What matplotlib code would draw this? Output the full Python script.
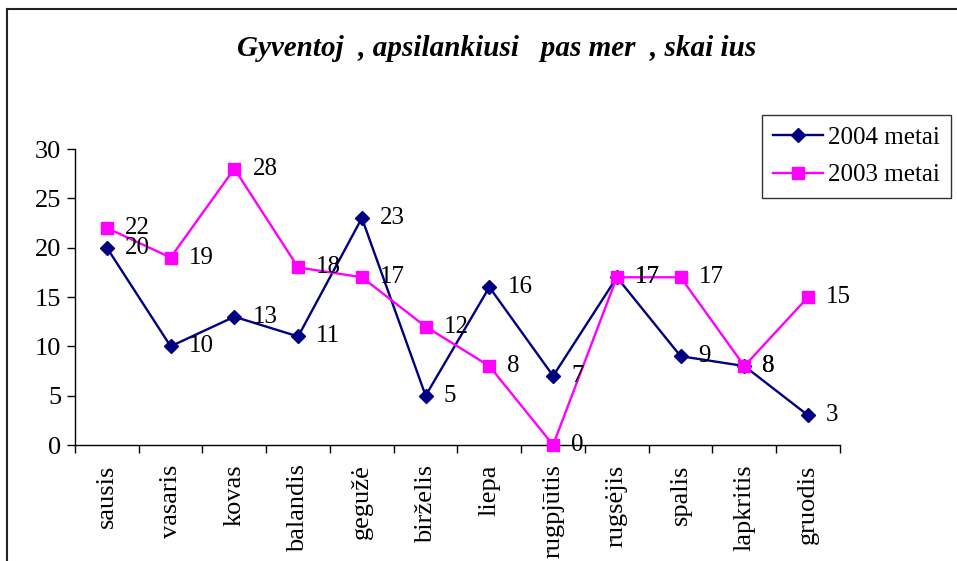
import numpy as np
import matplotlib
matplotlib.use("Agg")
import matplotlib.pyplot as plt
from matplotlib.lines import Line2D

months = ["sausis", "vasaris", "kovas", "balandis", "gegužė", "birželis",
          "liepa", "rugpjūtis", "rugsėjis", "spalis", "lapkritis", "gruodis"]
visits_2004 = [20, 10, 13, 11, 23, 5, 16, 7, 17, 9, 8, 3]
visits_2003 = [22, 19, 28, 18, 17, 12, 8, 0, 17, 17, 8, 15]

title = "Gyventoj  , apsilankiusi   pas mer  , skai ius"

plt.rcParams["font.family"] = ["Liberation Serif", "DejaVu Serif"]

W, H = 957, 561
fig = plt.figure(figsize=(W / 100, H / 100), dpi=100)

# frame around the chart area (only top and left visible in the crop)
fig.add_artist(Line2D([7.5 / W, 7.5 / W], [0, 1 - 9 / H], transform=fig.transFigure,
                      color="#222222", lw=1.5))
fig.add_artist(Line2D([7.5 / W, 1], [1 - 9 / H, 1 - 9 / H], transform=fig.transFigure,
                      color="#222222", lw=1.5))

ax = fig.add_axes([75 / W, 1 - 445 / H, (840 - 75) / W, (445 - 149) / H])

x = np.arange(len(months))

ax.plot(x, visits_2004, color="#000080", lw=1.7, marker="D", markersize=7.5,
        label="2004 metai", zorder=3)
ax.plot(x, visits_2003, color="#FF00FF", lw=1.7, marker="s", markersize=8.5,
        label="2003 metai", zorder=4)

for xi, v in zip(x, visits_2004):
    ax.annotate(str(v), (xi, v), xytext=(13, 0), textcoords="offset points",
                va="center", ha="left", fontsize=18, zorder=5)
for xi, v in zip(x, visits_2003):
    ax.annotate(str(v), (xi, v), xytext=(13, 0), textcoords="offset points",
                va="center", ha="left", fontsize=18, zorder=5)

ax.set_xlim(-0.5, len(months) - 0.5)
ax.set_ylim(0, 30)
ax.set_yticks(range(0, 31, 5))
ax.tick_params(axis="y", labelsize=19, direction="out", length=6, width=1, pad=4)

ax.set_xticks(x)
ax.set_xticklabels(months, rotation=90, fontsize=19)
ax.set_xticks(np.arange(-0.5, len(months)), minor=True)
ax.tick_params(axis="x", which="major", length=0, pad=14)
ax.tick_params(axis="x", which="minor", direction="out", length=6, width=1)

for side in ["top", "right"]:
    ax.spines[side].set_visible(False)
for side in ["left", "bottom"]:
    ax.spines[side].set_linewidth(1)

for ln in ax.lines:
    ln.set_clip_on(False)

fig.text(497 / W, 1 - 48 / H, title, ha="center", va="center",
         fontsize=21, fontweight="bold", fontstyle="italic")

leg = fig.legend(loc="upper right", bbox_to_anchor=(951 / W, 1 - 115 / H),
                 fontsize=18, frameon=True, fancybox=False, edgecolor="black",
                 handlelength=2.0, borderpad=0.45, labelspacing=0.6,
                 handletextpad=0.2, borderaxespad=0)
leg.get_frame().set_linewidth(1)

fig.savefig("out.png", dpi=100)
